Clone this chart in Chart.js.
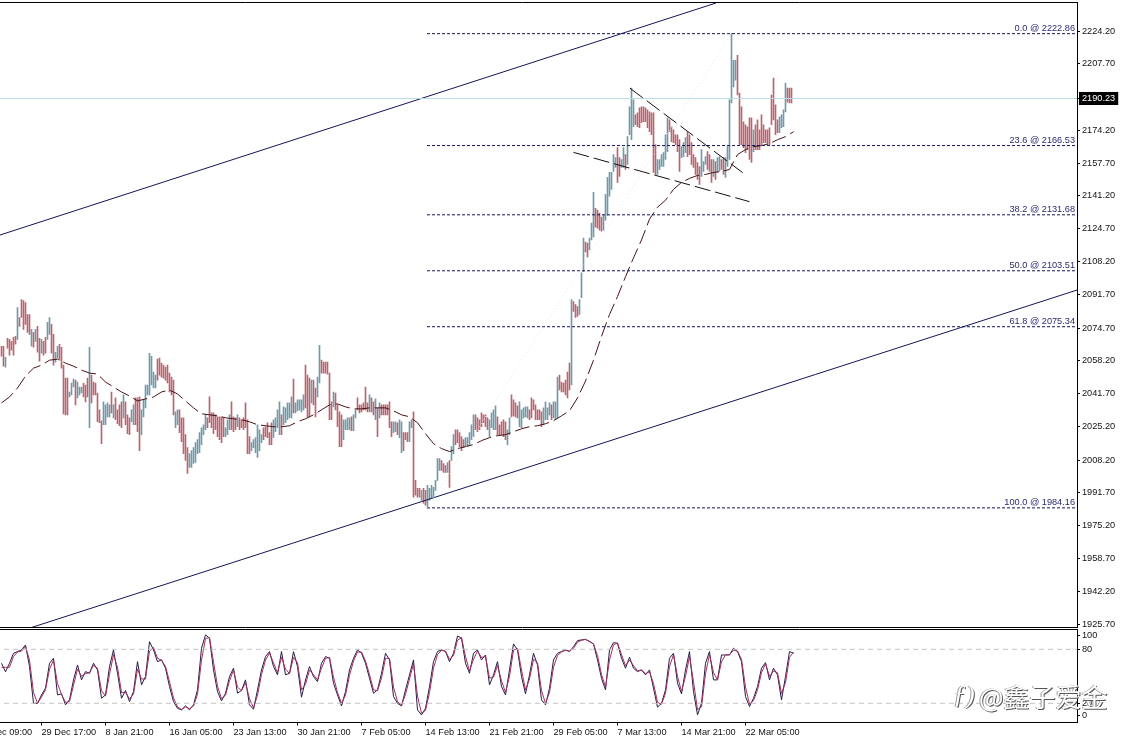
<!DOCTYPE html>
<html>
<head>
<meta charset="utf-8">
<title>XAUUSD H4</title>
<script src="https://cdn.jsdelivr.net/npm/chart.js@4/dist/chart.umd.min.js"></script>
<style>
  html, body { margin: 0; padding: 0; background: #fff; width: 1122px; height: 743px; overflow: hidden; }
  canvas { position: absolute; left: -32px; }
  #price { top: -10px; }
  #stoch { top: 620px; }
  .mark { position: absolute; color: #fff; text-shadow: 1px 1px 0 #555, -1px 0 0 #999; white-space: nowrap; }
</style>
</head>
<body>
<canvas id="price" width="1154" height="646"></canvas>
<canvas id="stoch" width="1154" height="123"></canvas>
<div class="mark" style="left:953px;top:680px;font:italic 26px 'Liberation Serif'">ƒ)</div>
<div class="mark" style="left:979px;top:677px;font:26px 'Noto Sans CJK SC'">@鑫子爱金</div>
<script>
// H4 bars, one value per bar, oldest first
var barHighs = [
  2065.5,2065.5,2060,2069.5,2069,2068,2070,2070.5,2085,2080,2089,2088.5,2087.5,2081.5,2081.5,2074,2072.5,2074,2075.5,2069.5,
  2069,2068,2070,2077.5,2080,2076.5,2071.5,2062.5,2065.5,2066.5,2065,2056,2049.5,2049.5,2042.5,2047,2049,2048.5,2047.5,2045,
  2045,2047,2046,2049.5,2065,2051,2047.5,2047,2042,2033.5,2028,2037.5,2036,2037,2036,2042.5,2036,2039.5,2033.5,2036,
  2037.5,2041,2037.5,2031,2029.5,2033.5,2036,2039.5,2039.5,2040,2033.5,2038.5,2046,2046,2062,2060.5,2052.5,2051,2059,2059.5,
  2057,2056,2055,2056,2052,2050,2048.5,2032.5,2033.5,2033.5,2029.5,2029.5,2021,2014.5,2011.5,2013,2014.5,2017,2018.5,2022,
  2024.5,2026,2031,2029.5,2040,2032,2032,2031,2030,2030,2030,2029.5,2024.5,2028.5,2031,2037.5,2030,2029.5,2031,2029.5,
  2028.5,2029.5,2037,2028.5,2020,2017,2018.5,2019.5,2026,2023.5,2021,2024.5,2025,2027,2022,2027,2028.5,2029.5,2033.5,2037.5,
  2031,2035,2034.5,2037,2037,2040,2049,2037,2038.5,2038.5,2038.5,2041,2056,2051,2049.5,2048.5,2048.5,2044.5,2050,2066,
  2058.5,2057.5,2057.5,2057.5,2052,2037.5,2042.5,2042,2036,2032.5,2031,2028.5,2028.5,2029.5,2029.5,2030,2031,2033.5,2039.5,2036,
  2036,2037,2045,2037,2041,2039.5,2037.5,2039,2034.5,2037,2036,2036,2036,2036,2037.5,2027.5,2027.5,2027.5,2027,2028.5,
  2027.5,2022,2022,2022,2027.5,2028.5,2032.5,1998,1994,1994,1993,1994,1993,1995.5,1994,1995.5,1994.5,1998,2009,2009,
  2008,2006.5,2005.5,2007,2008,2015,2021,2023.5,2023.5,2022,2020,2018.5,2019.5,2019.5,2022,2026,2031,2031,2029.5,2028.5,
  2032,2031,2031,2029.5,2028.5,2032,2033.5,2035.5,2030,2026,2027.5,2028.5,2027.5,2023.5,2029.5,2041,2038.5,2037,2035.5,2037.5,
  2033.5,2034.5,2035,2035,2033.5,2039.5,2038.5,2036,2033.5,2033.5,2032.5,2034.5,2037.5,2034.5,2037,2036,2037.5,2037.5,2050,2051,
  2047.5,2047,2048.5,2052.5,2057,2089,2088,2086.5,2085.5,2089,2102.5,2120,2118,2117.5,2120,2127.5,2143,2135,2134,2132.5,
  2130.5,2131.5,2142,2150.5,2153,2153,2162,2160.5,2165.5,2160.5,2159.5,2165.5,2162,2171,2186,2195.5,2189.5,2182,2183,2185.5,
  2186,2186,2185.5,2184.5,2183.5,2183,2183,2167,2159.5,2159.5,2162,2163,2172,2180.5,2179.5,2176,2174.5,2172,2172,2169.5,
  2166,2168,2170.5,2173.5,2172,2168,2162,2160.5,2158,2156,2164.5,2158.5,2161,2163.5,2162,2159.5,2159.5,2158.5,2160.5,2161,
  2159.5,2160.5,2160.5,2166,2189.5,2222.86,2209.5,2209.5,2212,2193,2186,2178.5,2177,2176,2180.5,2180.5,2174.5,2177,2179.5,2174.5,
  2182,2177,2174.5,2174.5,2175.5,2192,2200.5,2187,2179.5,2181,2182,2184.5,2198,2195.5,2195.5,2195.5
];
var barLows = [
  2060.5,2055.5,2055,2064.5,2061,2063.5,2061,2066.5,2069,2075.5,2080,2074,2076.5,2072.5,2071.5,2065.5,2065,2068,2062.5,2058,
  2062,2061,2062,2069,2071.5,2062,2056,2057.5,2059.5,2058.5,2054.5,2031.5,2031,2031,2040,2041,2045,2036,2039.5,2041,
  2042,2040,2037.5,2040,2024.5,2037,2041,2041,2027.5,2027,2016.5,2026,2026,2030,2030,2032,2029.5,2028.5,2026.5,2025.5,
  2024.5,2029.5,2026,2021.5,2021,2027.5,2026,2026,2022.5,2013,2021,2030,2034.5,2041,2041,2046,2044.5,2044.5,2048.5,2051,
  2050,2049.5,2048.5,2047,2042.5,2041,2031,2024.5,2026,2022,2017.5,2011.5,2008,2001.5,2004.5,2004.5,2006.5,2007,2011.5,2012,
  2016,2021,2023.5,2024.5,2027,2024.5,2021.5,2023.5,2020,2018.5,2017,2020,2020,2021,2023.5,2023.5,2022.5,2023.5,2025,2023.5,
  2024.5,2023.5,2024.5,2011.5,2011.5,2013,2014.5,2012,2009.5,2013,2017,2018.5,2020,2019.5,2016,2016,2019.5,2022.5,2024.5,2021,
  2021,2026,2027,2028.5,2029.5,2029.5,2032,2032,2033,2033.5,2032.5,2033.5,2034.5,2030,2030,2037,2036,2030,2040,2047,
  2052,2052,2052,2051.5,2028.5,2028.5,2035,2033.5,2025,2015,2015,2018.5,2023.5,2023.5,2023.5,2023,2023,2029.5,2033.5,2032,
  2032.5,2033.5,2033.5,2032.5,2032.5,2032.5,2031,2028.5,2020,2029.5,2031,2031,2031,2031,2024.5,2020,2022,2022.5,2021,2019.5,
  2012,2013,2018.5,2017.5,2017.5,2024.5,1989.5,1990.5,1989.5,1989.5,1988,1986.5,1985.5,1984.16,1988,1989,1989.5,1993,1998,2003,
  2003,2002,2002,2002,1994.5,2008,2011.5,2016,2017,2015,2013,2014.5,2015,2015,2016,2018.5,2020,2023.5,2022.5,2023.5,
  2025,2027,2025,2023.5,2020,2024.5,2023.5,2023.5,2021,2021,2021,2020,2018.5,2016,2021,2030,2030.5,2030,2029.5,2025,
  2024.5,2029.5,2030,2029.5,2028.5,2029.5,2033.5,2028.5,2028.5,2028.5,2025,2026,2028.5,2028.5,2031,2028.5,2029.5,2028.5,2029.5,2043.5,
  2042.5,2042.5,2041,2039.5,2043.5,2046,2083,2080,2080.5,2081.5,2090,2103,2113,2110.5,2114,2119,2120.5,2125.5,2125,2124,
  2123.5,2124,2129,2131.5,2141,2144.5,2153.5,2155.5,2148,2151,2155.5,2155.5,2154.5,2157,2172,2169.5,2176,2177,2176,2175.5,
  2178,2178.5,2178.5,2175.5,2173.5,2172,2153,2152,2152,2154.5,2156,2156,2159.5,2163.5,2173.5,2168.5,2168,2167,2163.5,2153.5,
  2160.5,2161,2163,2161,2162,2157,2155.5,2152,2149.5,2147,2151,2153.5,2157,2154.5,2153.5,2148,2151,2149.5,2153,2153.5,
  2154.5,2152,2150.5,2156,2159.5,2188,2196,2199.5,2192,2167,2167,2165.5,2163,2164.5,2159.5,2158,2163.5,2164.5,2164.5,2164.5,
  2167,2168,2168,2167,2167,2177,2179.5,2172,2173,2173,2175.5,2176,2183.5,2188.5,2188,2188
];
// d = bar closed down, u = bar closed up
var barDir =
  'ddudddddud' + 'dddddududd' + 'udduudduud' + 'dddduuuduu' + 'udddudddd' + 'd' +
  'duuuududdd' + 'duddduuddd' + 'uuuuuuuudd' + 'ddddddduud' + 'dddduuuuuu' +
  'uuuddddddd' + 'dduuudddud' + 'ddddduuuuu' + 'uddddduuuu' + 'duuuuuduuu' +
  'uudddudduu' + 'ddddddu' + 'ddd' + 'duuuuduudd' + 'dddduddudu' + 'dddddduudu' +
  'uddduudddd' + 'udduuuuuuu' + 'ddduduuddd' + 'dduuuuuddd' + 'dddduuuudd' +
  'ddduuddddu' + 'uuuudddddd' + 'duuuuduuud' + 'dddddudddu' + 'uudduuuddd' +
  'duuuuuuudd' + 'uuduuuuddd' + 'dddddddduu' + 'uuuudddddd' + 'uuuddddddd' +
  'uuuddduduu' + 'dduuuuuudd' + 'ddddddu' + 'ddd' + 'ddddddddd' + 'u' + 'uuuddd';

// moving average, read every 4th bar
var maStep = 4;
var maValues = [
  2037,2040,2044.5,2050.5,2054.5,2056,2058.5,2059,2057,2055.5,2053.5,2052,2051.5,2047.5,2045,2042.5,2040.5,2038,2039,2040,
  2042.5,2043.5,2041.5,2038,2034.5,2031.5,2031,2030.5,2029.5,2029,2028.5,2027.5,2026,2025.5,2025,2025,2025.5,2027.5,2029,2031,
  2033.5,2036,2036.5,2035,2034,2034,2034.5,2034.5,2034.5,2033,2031,2030,2027,2021.5,2016.5,2014,2012.5,2014,2015,2016,
  2018,2019.5,2020.5,2021,2022.5,2024,2025,2025.5,2026.5,2028,2030.5,2033,2039.5,2048,2058.5,2070.5,2081.5,2090.5,2100.5,2110,
  2119,2129.5,2135.5,2139,2144.5,2148,2150,2151.5,2152,2153,2153.5,2154.5,2162,2164.5,2166,2166.5,2167.5,2169.5,2171,2173.5
];

// stochastic, read every 2nd bar
var stochStep = 2;
var stochK = [
  64.5,55,64.5,75.6,77.5,79.3,84.8,60.8,20,20,29.3,36.8,64.5,70,29.3,30.5,18.3,23.8,46,62.6,
  46,55.2,53.4,64.5,57.1,25.6,29.3,60.8,79.3,53.4,25.6,34.2,21.9,33,66.3,40.5,49.7,88.5,79.3,66.3,
  68.2,59,38.6,21.9,14.5,12.7,17.1,12.7,18.3,34.9,81.2,96,92.3,57.1,33,22.7,31.2,49.7,59,31.2,
  34.2,46,18.3,13.4,34.9,57.1,71.9,77.5,60.8,51.6,77.5,51.6,53.4,77.5,60.8,26.8,46,60.8,49.7,44.1,
  64.5,71.9,70,42.3,29.3,17.1,33,57.1,70,79.3,75.6,64.5,47.8,31.2,34.9,53.4,75.6,68.2,27.5,20,
  17.1,34.9,51.6,68.2,12.7,7.1,14.5,38.6,66.3,77.5,79.3,77.5,66.3,75.6,94.8,92.3,64.5,53.4,75.6,79.3,
  68.2,73.7,40.5,51.6,66.3,38.6,29.3,57.1,86,79.3,49.7,30.5,51.6,75.6,62.6,23.8,18.3,36.8,68.2,75.6,
  77.5,79.3,77.5,83,89.7,90.4,91.1,88.5,85.9,68.2,47.8,34.9,79.3,87.4,86.7,70,59,71.2,59,55.2,
  57.1,51.6,57.1,36.8,15.7,20,34.9,70,75.6,42.3,30.5,57.1,77.5,33,7.1,20,64.5,77.5,46,46,
  73.7,73.7,73.7,81.2,77.5,66.3,27.5,16.4,25.6,38.6,59,65.2,46,59,51.6,23.8,49.7,77.5,75.6
];
var stochD = [
  60,60,60,72,77,78,83,68,32,20,27,35,58,68,42,30,21,22,40,58,
  50,53,54,62,59,34,28,52,74,60,32,32,25,30,58,47,47,78,82,70,
  68,61,44,26,16,13,16,14,17,30,68,92,93,66,39,25,29,45,57,38,
  34,43,25,15,29,52,68,76,65,54,71,58,53,71,65,35,41,57,52,46,
  59,70,71,49,32,20,29,51,67,77,77,67,52,35,34,48,70,70,38,22,
  18,30,47,64,28,9,12,32,59,74,79,78,69,73,90,93,72,56,69,78,
  71,72,48,49,62,45,32,50,79,81,57,35,47,69,65,34,20,32,60,73,
  77,79,78,81,88,90,91,89,86,73,52,38,68,85,87,74,62,68,62,56,
  57,53,55,42,21,19,31,61,74,50,33,50,72,44,13,16,53,74,54,46,
  66,74,74,79,78,69,38,19,23,35,54,64,50,56,54,31,43,71,77
];

// axis labels
var priceTicks = [2224.20,2207.70,2190.23,2174.20,2157.70,2141.20,2124.70,2108.20,2091.70,2074.70,2058.20,2041.70,2025.20,2008.20,1991.70,1975.20,1958.70,1942.20,1925.70];
var bidPrice = 2190.23;
var timeTicks = [-12,20,52,84,116,148,180,212,244,276,308,340,372];
var timeLabels = ['22 Dec 09:00','29 Dec 17:00','8 Jan 21:00','16 Jan 05:00','23 Jan 13:00','30 Jan 21:00','7 Feb 05:00','14 Feb 13:00','21 Feb 21:00','29 Feb 05:00','7 Mar 13:00','14 Mar 21:00','22 Mar 05:00'];
var stochTicks = [95,80,20,6];
var stochTickLabels = ['100','80','20','0'];
var stochLevels = [80,20];

// fibonacci retracement
var fibLevels = ['0.0','23.6','38.2','50.0','61.8','100.0'];
var fibPrices = [2222.86,2166.53,2131.68,2103.51,2075.34,1984.16];
var fibFromBar = 212.75;

// drawn objects, [bar, price] at each end
var channelUpper = [[-0.75,2121.5],[357.25,2238.3]];
var channelLower = [[14.25,1923.7],[537.75,2093.8]];
var wedgeUpper = [[314.25,2195.4],[370.6,2152.9]];
var wedgeLower = [[286,2163.1],[374,2138.3]];
var fibDiagonal = [[212.75,1984.16],[365,2222.86]];

var xMin = -16.75, xMax = 537.75;
var textFont = { family: "'Liberation Sans', Arial, sans-serif", size: 9.2 };

function toPoints(pairs) {
  return pairs.map(function (p) { return { x: p[0], y: p[1] }; });
}

function lineSet(data, color, width, dash) {
  return { type: 'line', data: data, borderColor: color, borderWidth: width, borderDash: dash || [], pointRadius: 0, tension: 0, order: 1 };
}

var priceDatasets = [];
priceDatasets.push({
  type: 'bar',
  data: barHighs.map(function (h, i) { return { x: i, y: [barLows[i], h] }; }),
  backgroundColor: barHighs.map(function (h, i) { return barDir[i] === 'd' ? '#bb6470' : '#7299a8'; }),
  barThickness: 1,
  order: 3
});
priceDatasets.push(lineSet([{ x: xMin, y: bidPrice }, { x: xMax, y: bidPrice }], '#bcdde6', 1));
priceDatasets.push(lineSet(toPoints(fibDiagonal), '#e4e4ee', 1, [1, 3]));
fibPrices.forEach(function (p) {
  priceDatasets.push(lineSet([{ x: fibFromBar, y: p }, { x: xMax, y: p }], '#14145a', 1, [3, 2]));
});
priceDatasets.push(lineSet(maValues.map(function (v, i) { return { x: i * maStep, y: v }; }), '#4a1215', 1, [15, 5]));
priceDatasets.push(lineSet(toPoints(channelUpper), '#14145a', 1));
priceDatasets.push(lineSet(toPoints(channelLower), '#14145a', 1));
priceDatasets.push(lineSet(toPoints(wedgeUpper), '#111', 1, [16, 5]));
priceDatasets.push(lineSet(toPoints(wedgeLower), '#111', 1, [16, 5]));

// black frame lines the library has no option for
var framePlugin = {
  id: 'frame',
  afterDraw: function (chart) {
    var c = chart.ctx, a = chart.chartArea;
    c.save();
    c.strokeStyle = '#000';
    c.lineWidth = 1;
    c.beginPath();
    c.moveTo(a.left, a.top);
    c.lineTo(a.right, a.top);
    c.moveTo(a.left, a.bottom);
    c.lineTo(a.right, a.bottom);
    c.stroke();
    c.restore();
  }
};

var fibLabelPlugin = {
  id: 'fibLabels',
  afterDatasetsDraw: function (chart) {
    var c = chart.ctx, y = chart.scales.y, right = chart.chartArea.right;
    c.save();
    c.font = textFont.size + 'px ' + textFont.family;
    c.fillStyle = '#2a2a70';
    c.textAlign = 'right';
    c.textBaseline = 'bottom';
    fibPrices.forEach(function (p, i) {
      c.fillText(fibLevels[i] + ' @ ' + p.toFixed(2), right - 2, y.getPixelForValue(p) - 1);
    });
    c.restore();
  }
};

var baseX = {
  type: 'linear',
  min: xMin,
  max: xMax,
  offset: false,
  grid: { display: false }
};

new Chart(document.getElementById('price'), {
  type: 'bar',
  data: { datasets: priceDatasets },
  plugins: [framePlugin, fibLabelPlugin],
  options: {
    responsive: false,
    animation: false,
    layout: { padding: { top: 12.5, bottom: 8.5, left: 0, right: 0 } },
    plugins: { legend: { display: false }, tooltip: { enabled: false } },
    scales: {
      x: Object.assign({}, baseX, { display: false }),
      y: {
        position: 'right',
        min: 1923.94,
        max: 2238.55,
        afterFit: function (s) { s.width = 45; },
        afterBuildTicks: function (s) { s.ticks = priceTicks.map(function (v) { return { value: v }; }); },
        border: { color: '#000' },
        grid: { drawOnChartArea: false, tickLength: 3, tickColor: '#000' },
        ticks: {
          autoSkip: false,
          padding: 2,
          font: textFont,
          callback: function (v) { return v.toFixed(2); },
          color: function (ctx) { return ctx.tick && ctx.tick.value === bidPrice ? '#fff' : '#111'; },
          showLabelBackdrop: function (ctx) { return ctx.tick && ctx.tick.value === bidPrice; },
          backdropColor: '#000',
          backdropPadding: { top: 1, bottom: 1, left: 3, right: 3 }
        }
      }
    }
  }
});

new Chart(document.getElementById('stoch'), {
  type: 'line',
  data: {
    datasets: stochLevels.map(function (l) {
      return lineSet([{ x: xMin, y: l }, { x: xMax, y: l }], '#c4c4c4', 1, [5, 4]);
    }).concat([
      lineSet(stochD.map(function (v, i) { return { x: i * stochStep, y: v }; }), '#a0305f', 1),
      lineSet(stochK.map(function (v, i) { return { x: i * stochStep, y: v }; }), '#2a1a48', 1)
    ])
  },
  plugins: [framePlugin],
  options: {
    responsive: false,
    animation: false,
    layout: { padding: { top: 9.5, bottom: 0, left: 0, right: 0 } },
    plugins: { legend: { display: false }, tooltip: { enabled: false } },
    scales: {
      x: Object.assign({}, baseX, {
        afterFit: function (s) { s.height = 20.5; },
        afterBuildTicks: function (s) { s.ticks = timeTicks.map(function (v) { return { value: v }; }); },
        border: { color: '#000' },
        grid: { drawOnChartArea: false, tickLength: 3, tickColor: '#000' },
        ticks: {
          autoSkip: false,
          maxRotation: 0,
          align: 'start',
          padding: 1,
          font: textFont,
          color: '#111',
          callback: function (v) { return timeLabels[timeTicks.indexOf(v)]; }
        }
      }),
      y: {
        position: 'right',
        min: -1.33,
        max: 102,
        afterFit: function (s) { s.width = 45; },
        afterBuildTicks: function (s) { s.ticks = stochTicks.map(function (v) { return { value: v }; }); },
        border: { color: '#000' },
        grid: { drawOnChartArea: false, tickLength: 3, tickColor: '#000' },
        ticks: {
          autoSkip: false,
          padding: 2,
          font: textFont,
          color: '#111',
          callback: function (v) { return stochTickLabels[stochTicks.indexOf(v)]; }
        }
      }
    }
  }
});
</script>
</body>
</html>
